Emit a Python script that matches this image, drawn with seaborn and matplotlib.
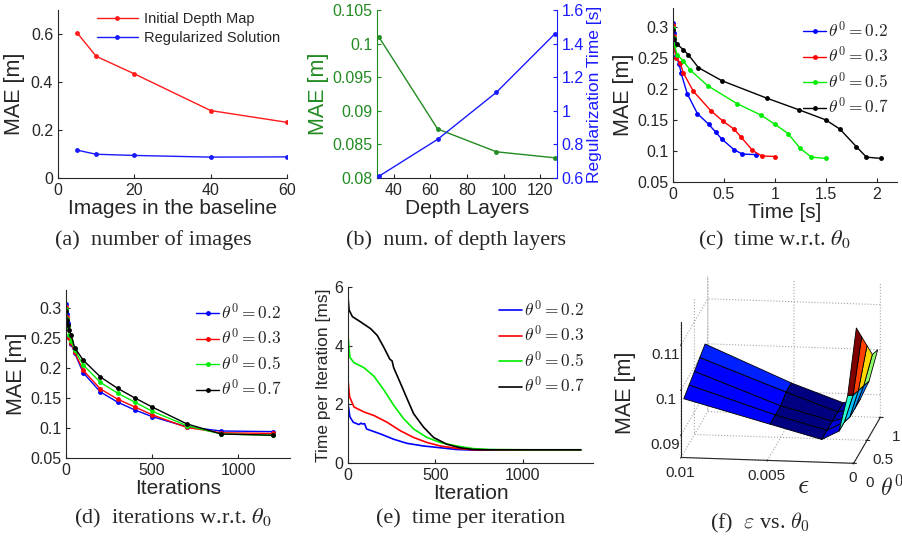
import numpy as np
import pandas as pd
import seaborn as sns
import matplotlib.pyplot as plt
from matplotlib import colors
from matplotlib.ticker import FuncFormatter

# (a) MAE vs number of images in the baseline
n_images = [5, 10, 20, 40, 60]
mae_initial = [0.605, 0.507, 0.434, 0.281, 0.232]
mae_regularized = [0.116, 0.099, 0.094, 0.087, 0.088]

# (b) MAE and regularization time vs number of depth layers
depth_layers = [32, 64, 96, 128]
mae_layers = [0.1010, 0.0873, 0.0839, 0.0830]
reg_time = [0.61, 0.83, 1.11, 1.46]

# (c) / (d) convergence for several theta^0
theta_names = ['0.2', '0.3', '0.5', '0.7']
theta_colors = ['#0000ff', '#ff0000', '#00ee00', '#000000']
iterations = [0, 5, 10, 20, 30, 50, 100, 200, 300, 400, 500, 700, 900, 1200]
mae_t02 = [0.306, 0.290, 0.275, 0.252, 0.240, 0.225, 0.192, 0.160, 0.143, 0.130, 0.119, 0.102, 0.095, 0.094]
mae_t03 = [0.302, 0.285, 0.270, 0.250, 0.242, 0.226, 0.196, 0.165, 0.148, 0.135, 0.122, 0.101, 0.092, 0.091]
mae_t05 = [0.298, 0.282, 0.270, 0.255, 0.245, 0.230, 0.205, 0.176, 0.158, 0.143, 0.128, 0.104, 0.090, 0.088]
mae_t07 = [0.295, 0.280, 0.272, 0.263, 0.255, 0.234, 0.213, 0.185, 0.166, 0.150, 0.135, 0.107, 0.090, 0.088]
time_t02 = [0.0, 0.005, 0.01, 0.03, 0.06, 0.08, 0.14, 0.24, 0.35, 0.42, 0.48, 0.60, 0.68, 0.82]
time_t03 = [0.0, 0.005, 0.01, 0.03, 0.07, 0.10, 0.20, 0.37, 0.49, 0.60, 0.67, 0.78, 0.87, 1.00]
time_t05 = [0.0, 0.005, 0.015, 0.04, 0.10, 0.17, 0.34, 0.63, 0.86, 1.00, 1.13, 1.25, 1.36, 1.50]
time_t07 = [0.0, 0.01, 0.04, 0.10, 0.15, 0.25, 0.48, 0.92, 1.24, 1.50, 1.64, 1.80, 1.90, 2.04]

# (e) time per iteration
iter_e_t02 = [0, 11, 30, 62, 75, 81, 95, 106, 186, 261, 337, 432, 527, 621, 716, 900, 1330]
tpi_t02 = [2.03, 1.57, 1.39, 1.31, 1.36, 1.33, 1.34, 1.16, 0.99, 0.81, 0.67, 0.58, 0.52, 0.46, 0.44, 0.44, 0.44]
iter_e_t03 = [0, 9, 34, 91, 148, 223, 299, 375, 451, 527, 621, 716, 900, 1330]
tpi_t03 = [2.84, 2.26, 1.91, 1.74, 1.62, 1.39, 1.10, 0.87, 0.70, 0.58, 0.50, 0.45, 0.44, 0.44]
iter_e_t05 = [0, 11, 34, 91, 148, 205, 261, 318, 375, 451, 527, 621, 716, 811, 1000, 1330]
tpi_t05 = [4.35, 3.60, 3.42, 3.25, 2.96, 2.49, 1.97, 1.51, 1.16, 0.87, 0.70, 0.58, 0.49, 0.46, 0.45, 0.45]
iter_e_t07 = [0, 6, 25, 72, 129, 167, 205, 239, 252, 261, 299, 337, 375, 432, 489, 564, 640, 716, 800, 1000, 1330]
tpi_t07 = [5.68, 5.22, 4.99, 4.81, 4.58, 4.35, 3.94, 3.54, 3.48, 3.25, 2.73, 2.20, 1.68, 1.22, 0.87, 0.64, 0.52, 0.46, 0.45, 0.45, 0.45]

# (f) MAE surface over epsilon and theta^0
eps_vals = [0.0, 0.0005, 0.001, 0.002, 0.005, 0.01]
theta_grid = [0.1, 0.3, 0.5, 0.7, 0.9]
mae_grid = [
    [0.114, 0.099, 0.091, 0.089, 0.092, 0.097],
    [0.110, 0.097, 0.091, 0.089, 0.092, 0.098],
    [0.106, 0.096, 0.090, 0.089, 0.092, 0.099],
    [0.102, 0.095, 0.090, 0.089, 0.093, 0.100],
    [0.101, 0.094, 0.090, 0.089, 0.093, 0.101],
]

sns.set_style('ticks')
plt.rcParams['font.family'] = ['Liberation Sans', 'DejaVu Sans']
plt.rcParams['mathtext.fontset'] = 'cm'
plt.rcParams['xtick.direction'] = 'in'
plt.rcParams['ytick.direction'] = 'in'

W, H = 903, 541
fig = plt.figure(figsize=(W / 100, H / 100), dpi=100)


def px_axes(l, t, r, b, **kw):
    return fig.add_axes([l / W, 1 - b / H, (r - l) / W, (b - t) / H], **kw)


def style(ax):
    ax.spines['top'].set_visible(False)
    ax.spines['right'].set_visible(False)
    ax.tick_params(labelsize=11.5, length=3, width=0.8)
    ax.xaxis.set_major_formatter(FuncFormatter(lambda v, p: '%g' % v))
    ax.yaxis.set_major_formatter(FuncFormatter(lambda v, p: '%g' % v))


def caption(x, y, s, mfont='stix'):
    fig.text(x / W, 1 - y / H, s, ha='center', va='center', family='Liberation Serif',
             size=16, math_fontfamily=mfont)


# (a)
ax = px_axes(58, 10, 287, 178)
sns.lineplot(x=n_images, y=mae_initial, ax=ax, color='#ff1a1a', marker='o', markersize=3.5,
             markeredgewidth=0, lw=1, label='Initial Depth Map')
sns.lineplot(x=n_images, y=mae_regularized, ax=ax, color='#1a1aff', marker='o', markersize=3.5,
             markeredgewidth=0, lw=1, label='Regularized Solution')
ax.set_xlim(0, 60)
ax.set_ylim(0, 0.7)
ax.set_xticks([0, 20, 40, 60])
ax.set_yticks([0, 0.2, 0.4, 0.6])
style(ax)
ax.set_xlabel('Images in the baseline', fontsize=15, labelpad=1)
ax.set_ylabel('MAE [m]', fontsize=15.5, labelpad=4)
ax.legend(loc='upper right', frameon=False, fontsize=10.5, handlelength=2.8,
          borderaxespad=0.1, labelspacing=0.35, handletextpad=0.4, bbox_to_anchor=(1.0, 1.03))
caption(153, 240, '(a)  number of images')

# (b)
ax = px_axes(377, 10, 557, 178)
green = '#228b22'
blue = '#1a1aff'
sns.lineplot(x=depth_layers, y=mae_layers, ax=ax, color=green, marker='o', markersize=3.5,
             markeredgewidth=0, lw=1)
ax.set_xlim(31, 129)
ax.set_ylim(0.08, 0.105)
ax.set_xticks([40, 60, 80, 100, 120])
ax.set_yticks([0.08, 0.085, 0.09, 0.095, 0.1, 0.105])
style(ax)
ax.spines['left'].set_color(green)
ax.tick_params(axis='y', colors=green)
ax.set_xlabel('Depth Layers', fontsize=15, labelpad=1)
ax.set_ylabel('MAE [m]', fontsize=15.5, color=green, labelpad=2)
ax2 = ax.twinx()
sns.lineplot(x=depth_layers, y=reg_time, ax=ax2, color=blue, marker='o', markersize=3.5,
             markeredgewidth=0, lw=1)
ax2.set_ylim(0.6, 1.6)
ax2.set_yticks([0.6, 0.8, 1.0, 1.2, 1.4, 1.6])
ax2.yaxis.set_major_formatter(FuncFormatter(lambda v, p: '%g' % v))
for s in ['top', 'left', 'bottom']:
    ax2.spines[s].set_visible(False)
ax2.spines['right'].set_color(blue)
ax2.tick_params(axis='y', colors=blue, labelsize=11.5, length=3, direction='in')
ax2.set_ylabel('Regularization Time [s]', fontsize=12.5, color=blue, labelpad=2)
caption(456, 240, '(b)  num. of depth layers')

mae_curves = [mae_t02, mae_t03, mae_t05, mae_t07]
time_curves = [time_t02, time_t03, time_t05, time_t07]

# (c)
ax = px_axes(673, 8, 897, 182)
for name, c, t, m in zip(theta_names, theta_colors, time_curves, mae_curves):
    sns.lineplot(x=t, y=m, ax=ax, color=c, marker='o', markersize=3.5, markeredgewidth=0,
                 lw=1, label=r'$\theta^0 = %s$' % name)
ax.set_xlim(0, 2.2)
ax.set_ylim(0.05, 0.33)
ax.set_xticks([0, 0.5, 1, 1.5, 2])
ax.set_yticks([0.05, 0.1, 0.15, 0.2, 0.25, 0.3])
style(ax)
ax.set_xlabel('Time [s]', fontsize=15, labelpad=1)
ax.set_ylabel('MAE [m]', fontsize=15.5, labelpad=2)
ax.legend(loc='upper right', frameon=False, fontsize=12.5, handlelength=1.3,
          borderaxespad=0.1, labelspacing=0.3, handletextpad=0.1, bbox_to_anchor=(1.0, 0.98))
caption(774, 240, r'(c)  time w.r.t. $\theta_0$')

# (d)
ax = px_axes(66, 290, 290, 458)
for name, c, m in zip(theta_names, theta_colors, mae_curves):
    sns.lineplot(x=iterations, y=m, ax=ax, color=c, marker='o', markersize=3.5, markeredgewidth=0,
                 lw=1, label=r'$\theta^0 = %s$' % name)
ax.set_xlim(0, 1300)
ax.set_ylim(0.05, 0.33)
ax.set_xticks([0, 500, 1000])
ax.set_yticks([0.05, 0.1, 0.15, 0.2, 0.25, 0.3])
style(ax)
ax.set_xlabel('Iterations', fontsize=15, labelpad=1)
ax.set_ylabel('MAE [m]', fontsize=15.5, labelpad=2)
ax.legend(loc='upper right', frameon=False, fontsize=12.5, handlelength=1.3,
          borderaxespad=0.1, labelspacing=0.3, handletextpad=0.1, bbox_to_anchor=(1.0, 0.98))
caption(173, 518, r'(d)  iterations w.r.t. $\theta_0$')

# (e)
ax = px_axes(348, 287, 593, 463)
iter_curves = [iter_e_t02, iter_e_t03, iter_e_t05, iter_e_t07]
tpi_curves = [tpi_t02, tpi_t03, tpi_t05, tpi_t07]
for name, c, it, tp in zip(theta_names, theta_colors, iter_curves, tpi_curves):
    sns.lineplot(x=it, y=tp, ax=ax, color=c, lw=1.2, label=r'$\theta^0 = %s$' % name)
ax.set_xlim(0, 1400)
ax.set_ylim(0, 6)
ax.set_xticks([0, 500, 1000])
ax.set_yticks([0, 2, 4, 6])
style(ax)
ax.set_xlabel('Iteration', fontsize=15, labelpad=1)
ax.set_ylabel('Time per Iteration [ms]', fontsize=12.5, labelpad=2)
ax.legend(loc='upper right', frameon=False, fontsize=12.5, handlelength=1.3,
          borderaxespad=0.1, labelspacing=0.3, handletextpad=0.1, bbox_to_anchor=(1.0, 0.98))
caption(471, 518, '(e)  time per iteration')

# (f)
ax = px_axes(640, 254, 915, 492, projection='3d')
E, T = np.meshgrid(eps_vals, theta_grid)
Z = np.array(mae_grid)
norm = colors.Normalize(Z.min(), Z.max())
fc = plt.get_cmap('jet')(norm(Z))
ax.plot_surface(E, T, Z, facecolors=fc, edgecolor='k', linewidth=0.6, shade=False,
                rstride=1, cstride=1)
ax.set_xlim(0, 0.01)
ax.invert_xaxis()
ax.set_ylim(0, 1)
ax.set_zlim(0.085, 0.115)
ax.set_xticks([0, 0.005, 0.01])
ax.set_yticks([0, 0.5, 1])
ax.set_zticks([0.09, 0.1, 0.11])
for a in (ax.xaxis, ax.yaxis, ax.zaxis):
    a.set_pane_color((1, 1, 1, 0))
    a._axinfo['grid'].update(color='0.65', linestyle=':', linewidth=0.8)
    a.set_major_formatter(FuncFormatter(lambda v, p: '%g' % v))
ax.tick_params(labelsize=11)
ax.xaxis.set_tick_params(pad=-4)
ax.yaxis.set_tick_params(pad=0)
ax.zaxis.set_tick_params(pad=-1)
ax.set_proj_type('ortho')
ax.view_init(elev=14, azim=-82)
ax.set_box_aspect((1.0, 1.1, 0.8), zoom=1.2)
ax.zaxis.set_ticks_position('lower')
fig.text(626 / W, 1 - 393 / H, 'MAE [m]', rotation=90, ha='center', va='center', fontsize=15.5)
fig.text(803 / W, 1 - 486 / H, r'$\epsilon$', ha='center', va='center', fontsize=20)
fig.text(892 / W, 1 - 488 / H, r'$\theta^0$', ha='center', va='center', fontsize=17)
caption(760, 523, r'(f)  $\varepsilon$ vs. $\theta_0$', mfont='cm')

fig.savefig('out.png', dpi=100)
